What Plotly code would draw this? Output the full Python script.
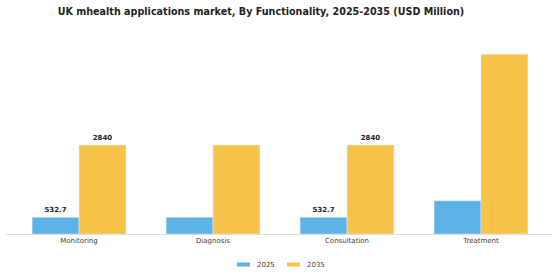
import plotly.graph_objects as go

categories = ["Monitoring", "Diagnosis", "Consultation", "Treatment"]
values_2025 = [532.7, 532.7, 532.7, 1060]
values_2035 = [2840, 2840, 2840, 5740]
labels_2025 = ["532.7", "", "532.7", ""]
labels_2035 = ["2840", "", "2840", ""]
series_names = ["2025", "2035"]

BLUE = "#5DB3E5"
ORANGE = "#F8C34B"
FONT = "DejaVu Sans"

W, H = 560, 280
M_L, M_R, M_T, M_B = 6, 8, 46, 46
PLOT_W = W - M_L - M_R
PLOT_H = H - M_T - M_B


def px_x(px):
    """Pixel column -> paper x."""
    return (px - M_L) / PLOT_W


def px_y(py):
    """Pixel row -> paper y."""
    return (H - M_B - py) / PLOT_H


fig = go.Figure()
for name, vals, labels, color in [
    (series_names[0], values_2025, labels_2025, BLUE),
    (series_names[1], values_2035, labels_2035, ORANGE),
]:
    fig.add_trace(go.Bar(
        name=name, x=categories, y=vals, marker_color=color,
        text=labels, textposition="outside", cliponaxis=False,
        textfont=dict(family=FONT, size=7, color="#222222", weight="bold"),
        showlegend=False,
    ))

# compact legend below the axis: short wide swatch + label
legend_items = [(series_names[0], BLUE, 237), (series_names[1], ORANGE, 287)]
for name, color, x0 in legend_items:
    fig.add_shape(
        type="rect", xref="paper", yref="paper",
        x0=px_x(x0), x1=px_x(x0 + 13), y0=px_y(266.5), y1=px_y(262.5),
        fillcolor=color, line=dict(width=0),
    )
    fig.add_annotation(
        xref="paper", yref="paper", x=px_x(x0 + 18), y=px_y(265),
        xanchor="left", yanchor="middle", showarrow=False, text=name,
        font=dict(family=FONT, size=7, color="#444444"),
    )

fig.update_layout(
    width=W, height=H,
    margin=dict(l=M_L, r=M_R, t=M_T, b=M_B, autoexpand=False),
    paper_bgcolor="white", plot_bgcolor="white",
    barmode="group", bargap=0.3, bargroupgap=0,
    title=dict(
        text="<b>UK mhealth applications market, By Functionality, 2025-2035 (USD Million)</b>",
        x=0.466, xanchor="center", y=0.96, yanchor="middle",
        font=dict(family=FONT, size=9.6, color="#222222"),
    ),
    xaxis=dict(
        range=[-0.545, 3.53], showgrid=False, showline=True,
        linecolor="#dddddd", linewidth=1, ticks="",
        tickfont=dict(family=FONT, size=7, color="#444444"),
    ),
    yaxis=dict(range=[0, 6000], visible=False),
    showlegend=False,
)

fig.write_html("out.html")
